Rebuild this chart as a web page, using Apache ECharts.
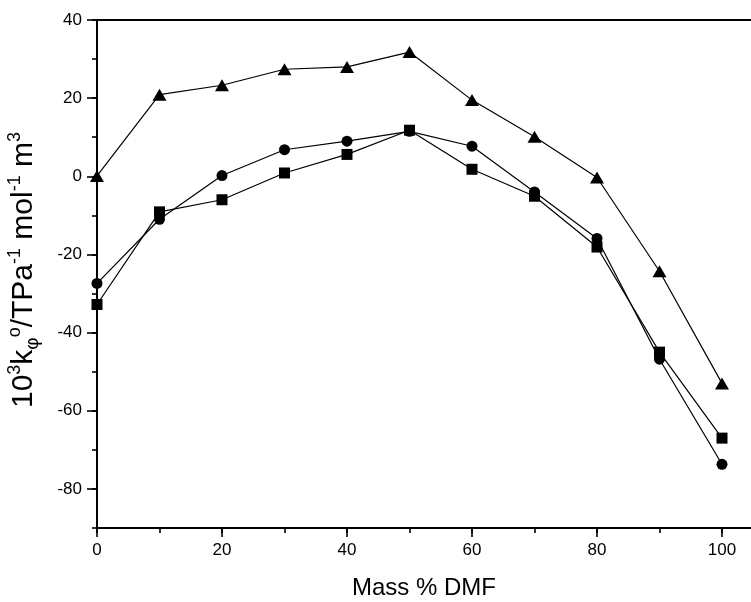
<!DOCTYPE html>
<html>
<head>
<meta charset="utf-8">
<script src="https://cdn.jsdelivr.net/npm/echarts@6/dist/echarts.min.js"></script>
<style>html,body{margin:0;padding:0;background:#fff}#c{width:751px;height:602px}</style>
</head>
<body>
<div id="c"></div>
<script>
var xValues = [0, 10, 20, 30, 40, 50, 60, 70, 80, 90, 100];
var triangleSeries = [0.1, 20.9, 23.3, 27.4, 28.0, 31.8, 19.5, 10.1, -0.3, -24.3, -53.0];
var circleSeries = [-27.4, -11.0, 0.2, 6.8, 9.0, 11.5, 7.7, -4.0, -15.9, -46.8, -73.7];
var squareSeries = [-32.8, -9.1, -6.0, 0.85, 5.6, 11.8, 1.8, -5.1, -18.1, -45.0, -67.0];
var xMajorTicks = [0, 20, 40, 60, 80, 100];
var xMinorTicks = [0, 10, 20, 30, 40, 50, 60, 70, 80, 90, 100];
var yMajorTicks = [-80, -60, -40, -20, 0, 20, 40];
var yMinorTicks = [-90, -80, -70, -60, -50, -40, -30, -20, -10, 0, 10, 20, 30, 40];
var xTitle = 'Mass % DMF';
var yTitleRich = '{b|10}{sup|3}{b|k}{sub|φ}{sup|o}{b|/TPa}{sup|-1}{b| mol}{sup|-1}{b| m}{sup|3}';

var FONT = '"Liberation Sans", Arial, sans-serif';
var XMIN = 0, XMAX = 104.64, YMIN = -90, YMAX = 40;
function pairs(ys) { return xValues.map(function (x, i) { return [x, ys[i]]; }); }

var chart = echarts.init(document.getElementById('c'));
var lineStyle = { color: '#000', width: 1.2 };
var tickStyle = { color: '#000', width: 1.6 };
var gridBox = { left: 97, right: 0, top: 20, height: 508 };
chart.setOption({
  animation: false,
  backgroundColor: '#fff',
  grid: [gridBox, gridBox],
  xAxis: [
    {
      gridIndex: 0, type: 'value', min: XMIN, max: XMAX, position: 'bottom',
      axisLine: { show: true, onZero: false, lineStyle: { color: '#000', width: 2 } },
      axisTick: { show: true, length: 9, lineStyle: tickStyle, customValues: xMajorTicks },
      splitLine: { show: false },
      axisLabel: { fontSize: 17, color: '#000', fontFamily: FONT, margin: 14, customValues: xMajorTicks }
    },
    {
      gridIndex: 0, type: 'value', min: XMIN, max: XMAX, position: 'top',
      axisLine: { show: true, onZero: false, lineStyle: { color: '#000', width: 2 } },
      axisTick: { show: false }, axisLabel: { show: false }, splitLine: { show: false }
    },
    {
      gridIndex: 1, type: 'value', min: XMIN, max: XMAX, position: 'bottom',
      axisLine: { show: false, onZero: false },
      axisTick: { show: true, length: 5, lineStyle: tickStyle, customValues: xMinorTicks },
      axisLabel: { show: false }, splitLine: { show: false }
    }
  ],
  yAxis: [
    {
      gridIndex: 0, type: 'value', min: YMIN, max: YMAX,
      axisLine: { show: true, onZero: false, lineStyle: { color: '#000', width: 2 } },
      axisTick: { show: true, length: 10, lineStyle: tickStyle, customValues: yMajorTicks },
      axisLabel: { fontSize: 17, color: '#000', fontFamily: FONT, margin: 15, customValues: yMajorTicks },
      splitLine: { show: false }
    },
    {
      gridIndex: 1, type: 'value', min: YMIN, max: YMAX,
      axisLine: { show: false, onZero: false },
      axisTick: { show: true, length: 5, lineStyle: tickStyle, customValues: yMinorTicks },
      axisLabel: { show: false }, splitLine: { show: false }
    }
  ],
  graphic: [
    {
      type: 'text', x: 424, y: 588,
      style: { text: xTitle, fontSize: 24, fontFamily: FONT, fill: '#000', align: 'center', verticalAlign: 'middle' }
    },
    {
      type: 'text', x: 24, y: 270, rotation: Math.PI / 2,
      style: {
        text: yTitleRich, fill: '#000', align: 'center', verticalAlign: 'middle',
        fontSize: 30, fontFamily: FONT,
        rich: {
          b: { fontSize: 30, lineHeight: 36, fontFamily: FONT, fill: '#000' },
          sup: { fontSize: 18, lineHeight: 18, verticalAlign: 'top', fontFamily: FONT, fill: '#000' },
          sub: { fontSize: 19, lineHeight: 19, verticalAlign: 'bottom', fontFamily: FONT, fill: '#000' }
        }
      }
    }
  ],
  series: [
    {
      type: 'line', xAxisIndex: 0, yAxisIndex: 0, data: pairs(squareSeries),
      symbol: 'rect', symbolSize: 11, showAllSymbol: true,
      lineStyle: lineStyle, itemStyle: { color: '#000' }
    },
    {
      type: 'line', xAxisIndex: 0, yAxisIndex: 0, data: pairs(circleSeries),
      symbol: 'circle', symbolSize: 11, showAllSymbol: true,
      lineStyle: lineStyle, itemStyle: { color: '#000' }
    },
    {
      type: 'line', xAxisIndex: 0, yAxisIndex: 0, data: pairs(triangleSeries),
      symbol: 'triangle', symbolSize: [14, 12], showAllSymbol: true,
      lineStyle: lineStyle, itemStyle: { color: '#000' }
    }
  ]
});
</script>
</body>
</html>
